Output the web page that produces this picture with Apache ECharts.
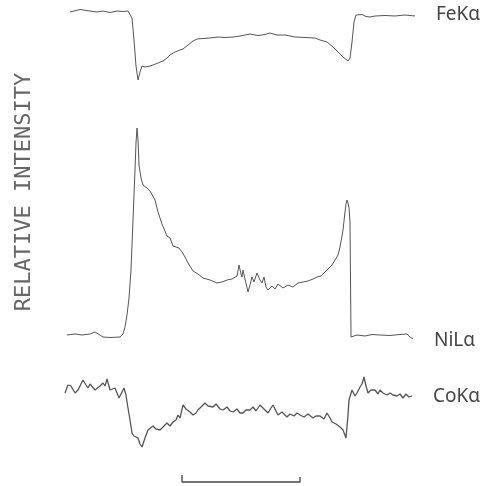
<!DOCTYPE html>
<html><head><meta charset="utf-8">
<script src="https://cdn.jsdelivr.net/npm/echarts@6/dist/echarts.min.js"></script>
<style>html,body{margin:0;padding:0;background:#fff}#c{width:495px;height:486px}</style>
</head><body><div id="c"></div>
<script>
// Scan position (arbitrary units) vs. trace level (arbitrary units, downward = larger)
const feKa = [[70,12],[80,9.5],[90,11],[97,12],[103,11],[110,12.5],[112,14],[117,11],[123,11.5],[128,11],[130,12.5],[132,18],[134,40],[136,66],[138,80],[140,72],[142,66],[145,67],[147,68],[150,66],[153,65],[158,63],[163,61],[167,58],[170,55],[175,52],[180,50],[183,49],[188,45],[193,41],[197,39],[203,38.5],[210,38],[218,37],[225,37.5],[233,37],[240,36],[250,34],[258,35.5],[265,34.5],[270,33],[277,35],[285,35],[295,37],[305,37.5],[315,38],[320,40],[327,42],[333,47],[338,52],[343,57],[348,61],[350,58],[352,42],[354,22],[356,15],[358,13],[362,14.5],[366,16.5],[370,17],[375,16],[385,15.5],[395,16],[405,15],[410,15.5],[415,16]];
const niLa = [[67,335],[75,334],[82,335],[90,334],[95,332],[100,335],[103,337],[110,337.5],[120,337],[123,334],[125,327],[127,315],[129,298],[131,270],[133,220],[135,170],[136,143],[137,128],[138,140],[139,165],[141,178],[143,185],[147,188],[150,191],[152,193],[155,200],[158,212],[162,224],[167,236],[170,238],[173,246],[175,248],[179,248],[182,252],[185,257],[188,263],[193,271],[198,274],[203,278],[210,280],[217,283],[222,282],[227,280],[232,279],[237,276],[239,265],[241,274],[242,277],[243,270],[245,279],[248,292],[250,285],[252,277],[254,282],[257,273],[260,280],[262,283],[264,277],[266,287],[268,290],[272,286],[275,289],[278,284],[283,288],[288,285],[293,287],[298,283],[303,282],[308,281],[313,279],[317,277],[321,276],[325,272],[328,269],[332,265],[335,260],[338,255],[340,247],[342,236],[343,230],[345,212],[346,204],[347,200],[348,203],[349,208],[350,222],[351,337],[357,335],[365,336],[372,334.5],[380,335],[390,335.5],[400,334.5],[407,334],[410,337],[413,339]];
const coKa = [[65,393],[68,385],[71,386],[73,387],[75,393],[78,390],[80,390],[83,380],[86,385],[88,388],[90,384],[92,385],[95,390],[97,392],[100,386],[103,383],[105,386],[107,379],[110,390],[112,388],[115,388],[117,393],[119,398],[121,394],[124,388],[126,395],[127,402],[130,420],[132,433],[134,436],[136,437],[138,438],[140,444],[142,447],[145,438],[148,430],[150,428],[153,426],[156,429],[160,430],[163,427],[167,423],[170,426],[173,422],[176,420],[178,415],[180,418],[183,405],[186,409],[190,412],[193,415],[196,413],[198,410],[201,407],[205,403],[208,406],[213,407],[216,404],[220,409],[223,410],[227,407],[230,411],[233,412],[237,409],[240,413],[243,413],[246,410],[250,410],[253,407],[256,411],[260,405],[264,409],[268,413],[271,408],[273,405],[276,411],[278,415],[282,412],[287,417],[290,414],[294,416],[297,413],[300,415],[304,417],[308,414],[313,418],[316,416],[320,416],[324,419],[327,413],[330,418],[332,422],[336,424],[340,427],[343,430],[346,438],[348,415],[349,400],[352,390],[355,396],[357,393],[360,387],[362,384],[364,377],[366,386],[368,393],[371,390],[375,390],[378,394],[380,390],[383,393],[387,395],[390,393],[393,395],[397,396],[400,394],[403,398],[406,394],[409,397],[412,396]];
const scaleBar = [[182,475],[182,482],[300,482],[300,477]];
const traceNames = ['FeK\u03b1','NiL\u03b1','CoK\u03b1'];
const yAxisTitle = 'RELATIVE INTENSITY';

const chart = echarts.init(document.getElementById('c'));
const lineColor = '#555';
function trace(name, data, w, dy){
  return {type:'line', name:name, data:data, symbol:'none', smooth:false,
    lineStyle:{color:lineColor, width:w}, silent:true, animation:false,
    endLabel:{show:true, formatter:'{a}', distance:21, offset:[0,dy], color:'#444',
      fontFamily:'Noto Sans', fontSize:19}};
}
chart.setOption({
  backgroundColor:'#fff',
  animation:false,
  grid:[{left:0, right:0, top:0, bottom:0},{left:0, width:10, top:72, height:240}],
  xAxis:[{type:'value', min:0, max:495, show:false},
         {type:'value', gridIndex:1, min:0, max:1, show:false}],
  yAxis:[{type:'value', min:0, max:486, inverse:true, show:false},
    {type:'value', gridIndex:1, min:0, max:1,
    axisLine:{show:false}, axisTick:{show:false}, axisLabel:{show:false}, splitLine:{show:false},
    name:yAxisTitle, nameLocation:'middle', nameGap:-24, nameRotate:90,
    nameTextStyle:{fontFamily:'DejaVu Sans Mono', fontSize:22, color:'#666', verticalAlign:'middle'}}],
  series:[
    trace(traceNames[0], feKa, 1, -1),
    trace(traceNames[1], niLa, 1, 2),
    trace(traceNames[2], coKa, 1.3, 1),
    {type:'line', data:scaleBar, symbol:'none', lineStyle:{color:'#444', width:1.3}, silent:true}
  ]
});
</script></body></html>
